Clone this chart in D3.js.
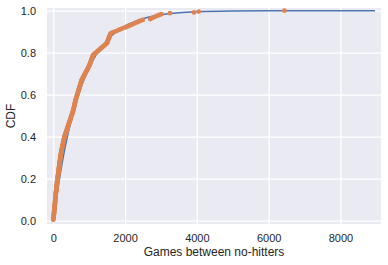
<!DOCTYPE html>
<html><head><meta charset="utf-8">
<script src="https://cdn.jsdelivr.net/npm/d3@7"></script>
<style>html,body{margin:0;padding:0;background:#fff;}svg{display:block;}</style>
</head><body>
<svg id="chart" width="388" height="265"></svg>
<script>
// Observed games between no-hitters (sorted), read off the ECDF
const gamesBetween = [
0,2,4,7,9,12,14,16,19,21,24,26,28,31,33,35,38,40,43,45,
47,49,51,53,55,56,58,60,62,
64,67,69,72,74,77,79,82,84,87,89,92,94,97,99,102,104,107,110,
113,116,120,123,126,130,133,136,140,
143,146,149,152,155,158,161,164,167,170,173,176,179,182,185,188,191,194,197,200,
204,208,212,216,221,225,229,233,
238,243,248,254,259,264,269,274,279,284,290,295,300,305,310,
318,326,333,341,349,357,364,372,380,388,395,403,411,419,426,434,442,450,457,465,
473,480,488,496,503,511,519,526,534,542,549,557,
562,567,573,578,583,588,594,599,604,609,615,620,
627,634,641,648,655,662,670,677,684,691,698,705,712,719,726,733,740,748,755,762,769,776,783,790,
802,815,827,839,852,864,876,889,901,913,926,938,951,963,975,988,1000,
1008,1017,1025,1034,1042,1051,1059,1068,1076,1085,1093,1102,1110,
1137,1164,1191,1218,1245,1272,1299,1326,1353,1380,1408,1435,1462,1490,
1499,1508,1517,1526,1535,1544,1553,1562,1571,1580,1590,1600,
1650,1710,1770,1830,1880,1930,
2010,2060,2110,2170,2220,2270,2330,2380,2430,2490,
2700,2740,2790,2840,2900,2960,3010,
3250,3920,4050,6440
];
// Theoretical CDF curve
const theorX = [0,50,100,150,200,300,400,500,600,700,800,1000,1200,1500,2000,2500,3000,3500,4000,5000,6000,7000,8000,8964];
const theorY = [0,0.063,0.123,0.178,0.230,0.325,0.408,0.480,0.544,0.600,0.649,0.730,0.792,0.860,0.927,0.962,0.980,0.990,0.995,0.9986,0.9996,0.9999,1.0,1.0];
const xTicks = [0,2000,4000,6000,8000];
const yTicks = [0.0,0.2,0.4,0.6,0.8,1.0];

const svg = d3.select("#chart");
const L = 47, R = 381, T = 8, B = 224;
const x = d3.scaleLinear().domain([-176, 9131]).range([L, R]);
const y = d3.scaleLinear().domain([-0.0157, 1.0129]).range([B, T]);
const font = "'Liberation Sans', Arial, sans-serif";

svg.append("rect").attr("x", L).attr("y", T).attr("width", R - L).attr("height", B - T).attr("fill", "#eaeaf2");

const gx = svg.append("g").attr("transform", `translate(0,${B})`)
  .call(d3.axisBottom(x).tickValues(xTicks).tickFormat(d3.format("d")).tickSize(-(B - T)).tickPadding(10));
const gy = svg.append("g").attr("transform", `translate(${L},0)`)
  .call(d3.axisLeft(y).tickValues(yTicks).tickFormat(d3.format(".1f")).tickSize(-(R - L)).tickPadding(11));
[gx, gy].forEach(g => {
  g.select(".domain").remove();
  g.selectAll(".tick line").attr("stroke", "#ffffff").attr("stroke-width", 1.3);
  g.selectAll(".tick text").attr("fill", "#262626").style("font-family", font).style("font-size", "11px");
});

const n = gamesBetween.length;
const ecdf = gamesBetween.map((v, i) => [v, (i + 1) / n]);

const line = d3.line().x(d => x(d[0])).y(d => y(d[1])).curve(d3.curveMonotoneX);
svg.append("path").datum(theorX.map((v, i) => [v, theorY[i]]))
  .attr("d", line).attr("fill", "none").attr("stroke", "#4c72b0").attr("stroke-width", 1.6);

svg.append("g").selectAll("circle").data(ecdf).join("circle")
  .attr("cx", d => x(d[0])).attr("cy", d => y(d[1])).attr("r", 2.4)
  .attr("fill", "#dd8452");

svg.append("text").attr("x", (L + R) / 2).attr("y", 256).attr("text-anchor", "middle")
  .attr("fill", "#262626").style("font-family", font).style("font-size", "12px")
  .text("Games between no-hitters");
svg.append("text").attr("transform", `translate(15,${(T + B) / 2}) rotate(-90)`).attr("text-anchor", "middle")
  .attr("fill", "#262626").style("font-family", font).style("font-size", "12px")
  .text("CDF");
</script>
</body></html>
